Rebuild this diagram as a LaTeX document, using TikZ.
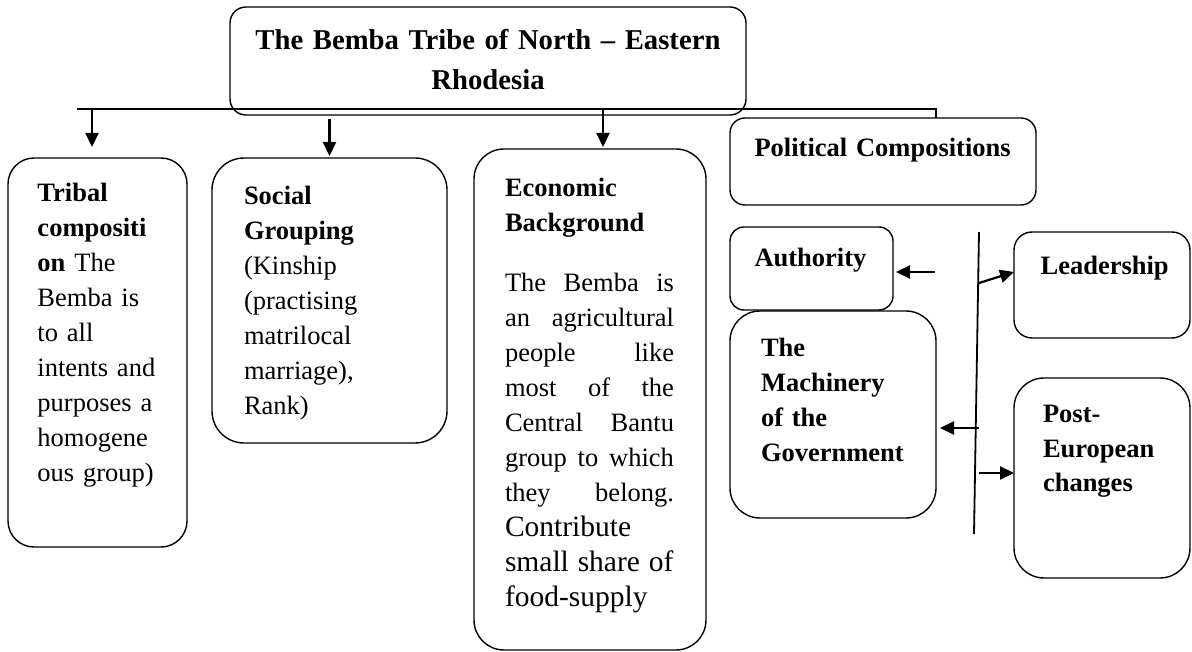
\documentclass[tikz,border=0pt]{standalone}
\usepackage{fontspec}
\setmainfont{Liberation Serif}
\usetikzlibrary{arrows.meta,calc}
\newcommand\jl[1]{\leavevmode\hbox to 169pt{#1}}
\begin{document}
\begin{tikzpicture}[x=1pt,y=-1pt,
  bx/.style={draw,line width=1.4pt,inner sep=0pt,outer sep=0pt},
  tx/.style={anchor=base west,inner sep=0pt,outer sep=0pt,align=left,text width=#1,font=\fontsize{26.5}{35}\selectfont},
  tx/.default=300pt,
  arr/.style={line width=2.2pt,-{Triangle[length=14pt,width=13pt]}},
  ln/.style={line width=1.8pt}]
\useasboundingbox (0,0) rectangle (1192,652);
% boxes
\node[bx,rounded corners=16pt,minimum width=516pt,minimum height=108pt] (title) at (488,61) {};
\node[bx,rounded corners=26pt,minimum width=179pt,minimum height=389pt] (trib) at (97.5,352.5) {};
\node[bx,rounded corners=32pt,minimum width=235pt,minimum height=285pt] (soc) at (329.5,300.5) {};
\node[bx,rounded corners=30pt,minimum width=232pt,minimum height=501pt] (econ) at (590,399.5) {};
\node[bx,rounded corners=15pt,minimum width=306pt,minimum height=87pt] (pol) at (883,161.5) {};
\node[bx,rounded corners=14pt,minimum width=163pt,minimum height=83pt] (auth) at (811.5,268.5) {};
\node[bx,rounded corners=18pt,minimum width=176pt,minimum height=106pt] (lead) at (1102,285) {};
\node[bx,rounded corners=30pt,minimum width=206pt,minimum height=207pt] (mach) at (833,414.5) {};
\node[bx,rounded corners=30pt,minimum width=176pt,minimum height=200pt] (post) at (1102,478) {};
% connectors top
\coordinate (hl) at (77,109);
\coordinate (hr) at (936,109);
\draw[ln] (hl) -- (hr) -- (hr |- pol.north);
\coordinate (a1) at (92,109);
\draw[arr,shorten >=11pt] (a1) -- (a1 |- trib.north);
\draw[arr,shorten <=4pt,shorten >=2pt] (title.south -| soc.north) -- (soc.north);
\coordinate (a3) at (603,109);
\draw[arr,shorten >=2pt] (a3) -- (a3 |- econ.north);
% right side
\coordinate (vt) at (979,232);
\coordinate (vb) at (974,534);
\draw[ln] (vt) -- (vb);
\coordinate (au) at (935,272);
\draw[arr,shorten >=3pt] (au) -- (au -| auth.east);
\coordinate (le) at (979,283);
\draw[arr] (le) -- ([yshift=13pt]lead.west);
\coordinate (ma) at (979,428);
\draw[arr,shorten >=4pt] (ma) -- (ma -| mach.east);
\coordinate (po) at (979,473);
\draw[arr] (po) -- (po -| post.west);
% texts
\node[anchor=base,inner sep=0pt,text width=520pt,align=center,font=\fontsize{28.7}{40}\selectfont\bfseries] (ttitle) at (488,50) {The Bemba Tribe of North – Eastern\\Rhodesia};
\node[tx=160pt] (ttrib) at (37.5,202) {\textbf{Tribal}\\\textbf{compositi}\\\textbf{on} The\\Bemba is\\to all\\intents and\\purposes a\\homogene\\ous group)};
\node[tx=200pt] (tsoc) at (244,205) {\textbf{Social}\\\textbf{Grouping}\\(Kinship\\(practising\\matrilocal\\marriage),\\Rank)};
\node[tx=175pt] (tecon) at (505,197) {\textbf{Economic}\\\textbf{Background}\\[25pt]\jl{The\hfill Bemba\hfill is}\\\jl{an\hfill agricultural}\\\jl{people\hfill like}\\\jl{most\hfill of\hfill the}\\\jl{Central\hfill Bantu}\\\jl{group\hfill to\hfill which}\\\jl{they\hfill belong.}\\\fontsize{29.5}{35}\selectfont Contribute\\small share of\\food-supply};
\node[tx] (tpol) at (754.5,157) {\bfseries Political Compositions};
\node[tx] (tauth) at (754.5,267) {\bfseries Authority};
\node[tx] (tlead) at (1040.6,275) {\bfseries Leadership};
\node[tx] (tmach) at (761,357) {\bfseries The\\Machinery\\of the\\Government};
\node[tx] (tpost) at (1043,422) {\bfseries Post-\\European\\changes};
\end{tikzpicture}
\end{document}
